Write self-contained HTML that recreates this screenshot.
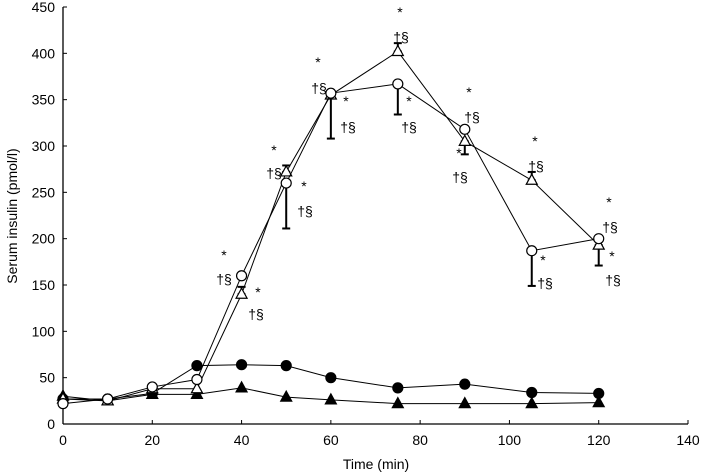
<!DOCTYPE html>
<html><head><meta charset="utf-8"><style>
html,body{margin:0;padding:0;background:#fff;}
svg{display:block;font-family:"Liberation Sans",Arial,sans-serif;}
</style></head><body>
<svg id="chart" width="705" height="473" viewBox="0 0 705 473" xmlns="http://www.w3.org/2000/svg"></svg>
<script>
const times = [0,10,20,30,40,50,60,75,90,105,120];
const openCircle = [22,27,40,48,160,260,357,367,318,187,200];
const openTriangle = [27,25,38,38,140,272,355,402,305,263,193];
const filledCircle = [27,27,33,63,64,63,50,39,43,34,33];
const filledTriangle = [30,25,32,32,39,29,26,22,22,22,23];
const openCircleErrLow = [22,27,40,48,160,211,308,334,318,149,200];
const openTriangleErrHigh = [27,25,38,38,148,279,355,411,305,272,193];
const openTriangleErrLow = [27,25,38,38,140,272,355,402,291,263,171];
const xTicks = [0,20,40,60,80,100,120,140];
const yTicks = [0,50,100,150,200,250,300,350,400,450];

const NS="http://www.w3.org/2000/svg";
const svg=document.getElementById('chart');
const X0=63,X1=688,Y0=424,Y1=7;
const xs=v=>X0+(v/140)*(X1-X0);
const ys=v=>Y0-(v/450)*(Y0-Y1);
function mk(tag,attrs,parent){const e=document.createElementNS(NS,tag);for(const k in attrs)e.setAttribute(k,attrs[k]);(parent||svg).appendChild(e);return e;}

let ax=mk('line',{x1:X0,y1:Y0,x2:X1,y2:Y0,stroke:'#000','stroke-width':1.3});


let ay=mk('line',{x1:X0,y1:Y0,x2:X0,y2:Y1,stroke:'#000','stroke-width':1.3});


xTicks.forEach(t=>{
  mk('line',{x1:xs(t),y1:Y0,x2:xs(t),y2:Y0-4,stroke:'#000'});
  const tx=mk('text',{x:xs(t),y:Y0+21,'text-anchor':'middle','font-size':14});
  tx.textContent=t;
  
  
});
yTicks.forEach(t=>{
  mk('line',{x1:X0,y1:ys(t),x2:X0+4,y2:ys(t),stroke:'#000'});
  const tx=mk('text',{x:X0-8,y:ys(t)+5,'text-anchor':'end','font-size':14});
  tx.textContent=t;
  
  
});
let xt=mk('text',{x:376,y:469,'text-anchor':'middle','font-size':14});
xt.textContent='Time (min)';


let yt=mk('text',{x:0,y:0,'text-anchor':'middle','font-size':14,transform:'translate(17,216) rotate(-90)'});
yt.textContent='Serum insulin (pmol/l)';



function errbar(lo,hi,name){
  times.forEach((t,i)=>{
    if(Math.abs(ys(hi[i])-ys(lo[i]))<2)return;
    const g=mk('g',{stroke:'#000','stroke-width':2});
    
    
    mk('line',{x1:xs(t),y1:ys(lo[i]),x2:xs(t),y2:ys(hi[i])},g);
    mk('line',{x1:xs(t)-4,y1:ys(lo[i]),x2:xs(t)+4,y2:ys(lo[i])},g);
    mk('line',{x1:xs(t)-4,y1:ys(hi[i]),x2:xs(t)+4,y2:ys(hi[i])},g);
  });
}
errbar(openCircleErrLow,openCircle,'open-circle-error-bar');
errbar(openTriangleErrLow,openTriangleErrHigh,'open-triangle-error-bar');

function series(vals,marker,fill,name){
  const pts=times.map((t,i)=>xs(t)+','+ys(vals[i])).join(' ');
  const l=mk('polyline',{points:pts,fill:'none',stroke:'#000','stroke-width':1});
  
  
  times.forEach((t,i)=>{
    const x=xs(t),y=ys(vals[i]);
    let m;
    if(marker==='c') m=mk('circle',{cx:x,cy:y,r:5,fill:fill,stroke:'#000','stroke-width':1.2});
    else m=mk('polygon',{points:`${x},${y-6} ${x-5.5},${y+4} ${x+5.5},${y+4}`,fill:fill,stroke:'#000','stroke-width':1.2});
    
    
  });
}
series(filledTriangle,'t','#000','filled-triangle');
series(filledCircle,'c','#000','filled-circle');
series(openTriangle,'t','#fff','open-triangle');
series(openCircle,'c','#fff','open-circle');

const notes=[[224,255,'*'],[224,279,'†§'],[258,292,'*'],[256,314,'†§'],
[274,150,'*'],[274,173,'†§'],[304,186,'*'],[305,211,'†§'],
[318,62,'*'],[319,88,'†§'],[346,101,'*'],[348,127,'†§'],
[400,12,'*'],[401,37,'†§'],[409,101,'*'],[409,127,'†§'],
[469,92,'*'],[472,117,'†§'],[459,153,'*'],[460,177,'†§'],
[535,141,'*'],[536,166,'†§'],[543,260,'*'],[545,283,'†§'],
[609,202,'*'],[610,227,'†§'],[612,256,'*'],[613,280,'†§']];
notes.forEach(n=>{
  const t=mk('text',{x:n[0],y:n[1]+5,'text-anchor':'middle','font-size':14});
  t.textContent=n[2];
  
  
});
</script>
</body></html>
